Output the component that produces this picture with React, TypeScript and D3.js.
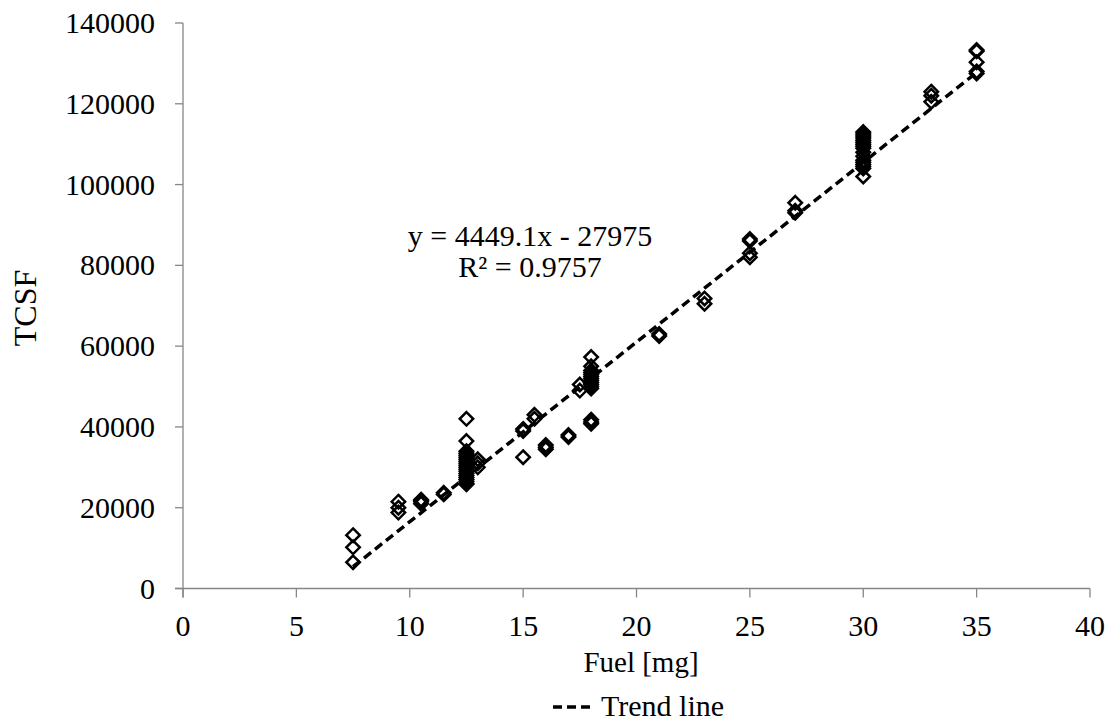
import React from "react";
import * as d3 from "d3";

const fuel: number[] = [
  7.5, 7.5, 7.5,
  9.5, 9.5, 9.5,
  10.5, 10.5, 10.5, 10.5,
  11.5, 11.5,
  12.5, 12.5, 12.5, 12.5, 12.5, 12.5, 12.5, 12.5, 12.5, 12.5, 12.5, 12.5, 12.5, 12.5, 12.5, 12.5, 12.5, 12.5, 12.5, 12.5,
  13, 13, 13,
  15, 15, 15,
  15.5, 15.5,
  16, 16, 16,
  17, 17,
  17.5, 17.5,
  18, 18, 18, 18, 18, 18, 18, 18, 18, 18, 18, 18, 18, 18, 18,
  21, 21,
  23, 23,
  25, 25, 25, 25,
  27, 27, 27,
  30, 30, 30, 30, 30, 30, 30, 30, 30, 30, 30, 30, 30, 30, 30, 30, 30,
  33, 33, 33,
  35, 35, 35, 35, 35,
];

const tcsf: number[] = [
  13200, 10200, 6500,
  21500, 20000, 18800,
  21000, 21500, 22000, 21800,
  23300, 23700,
  42000, 36500, 34000, 33500, 33000, 32500, 32000, 31500, 31000, 30500, 30000, 29500, 29000, 28500, 28000, 27500, 27000, 26500, 26000, 25800,
  32000, 31000, 30000,
  39500, 39000, 32500,
  43000, 42000,
  35500, 35000, 34500,
  38000, 37500,
  50500, 49000,
  57300, 55000, 54000, 53500, 53000, 52500, 52000, 51500, 51000, 50500, 50000, 49500, 41800, 41200, 40800,
  63000, 62500,
  71800, 70500,
  86500, 86000, 83000, 82000,
  95500, 93500, 93000,
  113000, 112500, 112000, 111500, 111000, 110500, 110000, 109500, 109000, 108000, 107000, 106000, 105500, 105000, 104500, 104000, 102000,
  123000, 122000, 120500,
  133300, 133000, 130300, 128000, 127500,
];

const xTicks: number[] = [0, 5, 10, 15, 20, 25, 30, 35, 40];
const yTicks: number[] = [0, 20000, 40000, 60000, 80000, 100000, 120000, 140000];

const trendSlope = 4449.1;
const trendIntercept = -27975;
const trendRange: number[] = [7.5, 35];
const equationLines: string[] = ["y = 4449.1x - 27975", "R\u00b2 = 0.9757"];

const xLabel = "Fuel [mg]";
const yLabel = "TCSF";
const legendLabel = "Trend line";

const W = 1116;
const H = 725;
const FONT = "Liberation Serif, Times New Roman, DejaVu Serif, serif";
const AXIS = "#868686";

export default function App() {
  const x = d3.scaleLinear().domain([0, 40]).range([183, 1090]);
  const y = d3.scaleLinear().domain([0, 140000]).range([588.5, 23]);

  const trendPts: [number, number][] = trendRange.map((v) => [x(v), y(trendSlope * v + trendIntercept)]);
  const line = d3.line<[number, number]>()(trendPts) || "";

  const diamond = d3.symbol().type(d3.symbolDiamond2).size(115)() || "";
  const ts = { fontFamily: FONT };

  return (
    <svg width={W} height={H} style={{ position: "absolute", left: 0, top: 0 }}>
      <rect width={W} height={H} fill="#fff" />
      {/* axes */}
      <line x1={x(0)} x2={x(0)} y1={y(140000)} y2={y(0) + 9} stroke={AXIS} strokeWidth={1.3} />
      <line x1={x(0) - 8} x2={x(40)} y1={y(0)} y2={y(0)} stroke={AXIS} strokeWidth={1.3} />
      {yTicks.map((t) => (
        <g key={"y" + t}>
          <line x1={x(0) - 8} x2={x(0)} y1={y(t)} y2={y(t)} stroke={AXIS} strokeWidth={1.3} />
          <text x={155} y={y(t) + 10} textAnchor="end" fontSize={30} fill="#000" style={ts}>
            {t}
          </text>
        </g>
      ))}
      {xTicks.map((t) => (
        <g key={"x" + t}>
          <line x1={x(t)} x2={x(t)} y1={y(0)} y2={y(0) + 9} stroke={AXIS} strokeWidth={1.3} />
          <text x={x(t)} y={636} textAnchor="middle" fontSize={30} fill="#000" style={ts}>
            {t}
          </text>
        </g>
      ))}
      {/* points */}
      {fuel.map((f, i) => (
        <path
          key={"p" + i}
          d={diamond}
          transform={`translate(${x(f)},${y(tcsf[i])})`}
          fill="none"
          stroke="#000"
          strokeWidth={2.5}
        />
      ))}
      {/* trend line */}
      <path d={line} fill="none" stroke="#000" strokeWidth={3.5} strokeDasharray="9,5" />
      {/* equation */}
      {equationLines.map((s, i) => (
        <text key={"eq" + i} x={530} y={246 + i * 31} textAnchor="middle" fontSize={30} fill="#000" style={ts}>
          {s}
        </text>
      ))}
      {/* axis titles */}
      <text x={641} y={672} textAnchor="middle" fontSize={29} fill="#000" style={ts}>
        {xLabel}
      </text>
      <text transform="translate(36,308) rotate(-90)" textAnchor="middle" fontSize={32} fill="#000" style={ts}>
        {yLabel}
      </text>
      {/* legend */}
      <line x1={553} x2={595} y1={707} y2={707} stroke="#000" strokeWidth={3.5} strokeDasharray="9,5" />
      <text x={601} y={716} fontSize={30} fill="#000" style={ts}>
        {legendLabel}
      </text>
    </svg>
  );
}
